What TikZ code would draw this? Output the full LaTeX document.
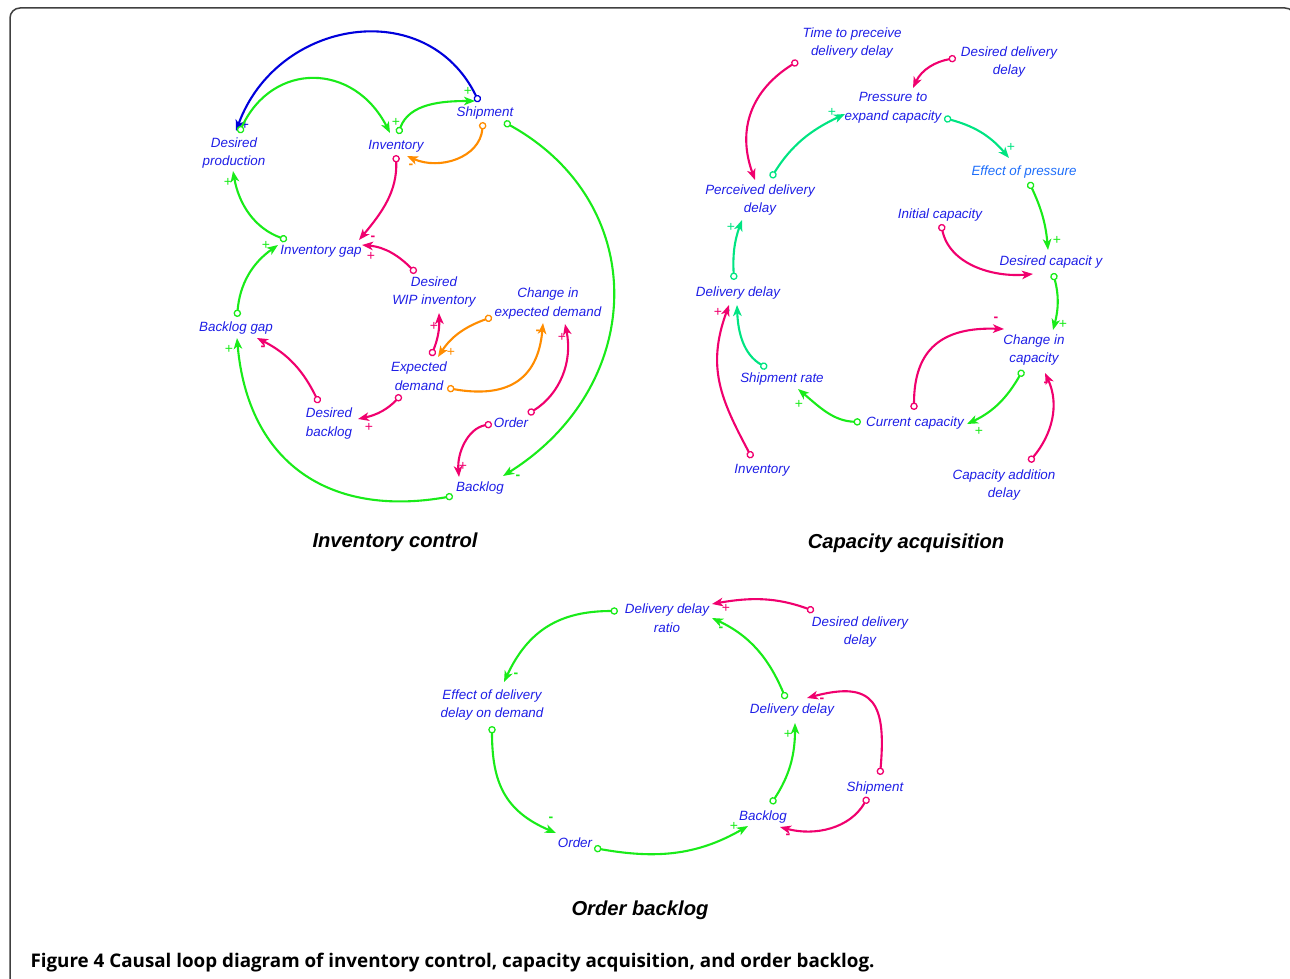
\documentclass[tikz,border=0pt]{standalone}
\usepackage{fontspec}
\setmainfont{Liberation Sans}
\newfontfamily\capfont{Open Sans}
\usetikzlibrary{arrows.meta,calc}

\definecolor{vblue}{RGB}{30,30,230}
\definecolor{eblue}{RGB}{30,110,250}
\definecolor{pk}{RGB}{240,0,110}
\definecolor{gr}{RGB}{25,235,25}
\definecolor{sg}{RGB}{0,228,130}
\definecolor{og}{RGB}{255,140,0}
\definecolor{bl}{RGB}{0,0,220}

\begin{document}
\begin{tikzpicture}[x=1pt,y=1pt,
   var/.style={text=vblue, font=\fontsize{13.4}{18.5}\selectfont\itshape, align=center, inner sep=1pt},
   ttl/.style={font=\fontsize{20.2}{22}\selectfont\bfseries\itshape},
   link/.style={line width=2.1pt, {Circle[open,length=7.5pt,line width=1.3pt]}-{Stealth[length=11pt,width=8.5pt,inset=3pt]}},
   sgn/.style={font=\fontsize{14}{16}\selectfont, inner sep=0pt},
   lgrn/.style={link, color=gr},
   lpnk/.style={link, color=pk},
   lorg/.style={link, color=og},
   lspr/.style={link, color=sg},
   lblu/.style={link, color=bl}]

\useasboundingbox (0,0) rectangle (1290,-979);
\draw[black!75, line width=1.5pt, rounded corners=10pt] (10,-8) rectangle (1295,-990);

% Inventory control
\node[var] (dprod) at (234,-153) {Desired\\production};
\node[var] (inv) at (396,-146) {Inventory};
\node[var] (ship) at (485,-113) {Shipment};
\node[var] (gap) at (321,-251) {Inventory gap};
\node[var] (wip) at (434,-292) {Desired\\WIP inventory};
\node[var] (ced) at (548,-303.5) {Change in\\expected demand};
\node[var] (bgap) at (236,-328) {Backlog gap};
\node[var] (ed) at (419,-376) {Expected\\demand};
\node[var] (dback) at (329,-423.5) {Desired\\backlog};
\node[var] (order) at (511,-423) {Order};
\node[var] (backlog) at (480,-488) {Backlog};
\node[ttl] (t1) at (395,-542) {Inventory control};

\draw[lblu] ($(ship)+(-6,11)$) to[out=116,in=70,looseness=1.25] node[sgn,at end,shift={(9,6)}]{+} ($(dprod)+(2,22)$);
\draw[lgrn] ($(dprod)+(5,20)$) to[out=65,in=117,looseness=1.35] node[sgn,at end,shift={(6,11)}]{+} ($(inv)+(-6,13)$);
\draw[lgrn] ($(inv)+(2,12)$) to[out=70,in=180] node[sgn,at end,shift={(-7,10)}]{+} ($(ship)+(-10,12)$);
\draw[lorg] ($(ship)+(-2,-9)$) to[out=-95,in=-24,looseness=1.1] node[sgn,at end,shift={(4,-10)}]{\bfseries -} ($(inv)+(11,-10)$);
\draw[lpnk] ($(inv)+(0,-9)$) to[out=-88,in=50] node[sgn,at end,shift={(14,2)}]{\bfseries -} ($(gap)+(38,11)$);
\draw[lpnk] ($(wip)+(-18,19)$) to[out=135,in=-5] node[sgn,at end,shift={(9,-11)}]{+} ($(gap)+(41,6)$);
\draw[lgrn] ($(gap)+(-34,11)$) to[out=160,in=-80] node[sgn,at end,shift={(-5,-11)}]{+} ($(dprod)+(-1,-18)$);
\draw[lgrn] ($(bgap)+(1,11)$) to[out=85,in=215] node[sgn,at end,shift={(-12,0)}]{+} ($(gap)+(-43,6)$);
\draw[lgrn] ($(backlog)+(-27,-8)$) to[out=190,in=-85,looseness=1.2] node[sgn,at end,shift={(-8,-11)}]{+} ($(bgap)+(1,-10)$);
\draw[lpnk] ($(dback)+(-10,20.5)$) to[out=116,in=-27] node[sgn,at end,shift={(6,-10)}]{\bfseries -} ($(bgap)+(21,-10)$);
\draw[lpnk] ($(ed)+(-18,-19)$) to[out=227,in=12] node[sgn,at end,shift={(11,-8)}]{+} ($(dback)+(29,4.5)$);
\draw[lpnk] ($(ed)+(12,20)$) to[out=68,in=-88] node[sgn,at end,shift={(-5,-13)}]{+} ($(wip)+(5,-21)$);
\draw[lorg] ($(ced)+(-56,-13.5)$) to[out=200,in=57] node[sgn,at end,shift={(13,5)}]{+} ($(ed)+(19,19)$);
\draw[lorg] ($(ed)+(28,-12)$) to[out=-10,in=-95,looseness=1.3] node[sgn,at end,shift={(-5,-9)}]{\bfseries -} ($(ced)+(-5,-19.5)$);
\draw[lpnk] ($(order)+(17,9)$) to[out=32,in=-78] node[sgn,at end,shift={(-3,-13)}]{+} ($(ced)+(17,-20.5)$);
\draw[lpnk] ($(order)+(-19,-1)$) to[out=190,in=95] node[sgn,at end,shift={(4,11)}]{+} ($(backlog)+(-21,11)$);
\draw[lgrn] ($(ship)+(19,-9)$) to[out=-29,in=32,looseness=1.22] node[sgn,at end,shift={(15,-1)}]{\bfseries -} ($(backlog)+(23,12)$);

% Capacity acquisition
\node[var] (tpd) at (852,-43) {Time to preceive\\delivery delay};
\node[var] (ddd) at (1009,-62) {Desired delivery\\delay};
\node[var] (pec) at (893,-108) {Pressure to\\expand capacity};
\node[var, text=eblue] (eop) at (1024,-172) {Effect of pressure};
\node[var] (pdd) at (760,-200) {Perceived delivery\\delay};
\node[var] (icap) at (940,-215) {Initial capacity};
\node[var] (dcap) at (1051,-262) {Desired capacit y};
\node[var] (dd) at (738,-293) {Delivery delay};
\node[var] (cic) at (1034,-350) {Change in\\capacity};
\node[var] (shr) at (782,-379) {Shipment rate};
\node[var] (curcap) at (915,-423) {Current capacity};
\node[var] (inv2) at (762,-470) {Inventory};
\node[var] (cad) at (1004,-485) {Capacity addition\\delay};
\node[ttl] (t2) at (906,-543) {Capacity acquisition};

\draw[lpnk] ($(tpd)+(-54,-18)$) to[out=212,in=110,looseness=1.1] ($(pdd)+(-5,20)$);
\draw[lpnk] ($(ddd)+(-53,4)$) to[out=190,in=65] ($(pec)+(20,20)$);
\draw[lspr] ($(pdd)+(11,22)$) to[out=58,in=205] node[sgn,at end,shift={(-13,2)}]{+} ($(pec)+(-48,-6)$);
\draw[lspr] ($(pec)+(51,-10)$) to[out=-15,in=130] node[sgn,at end,shift={(2,11)}]{+} ($(eop)+(-15,14)$);
\draw[lgrn] ($(eop)+(5,-10)$) to[out=-65,in=95] node[sgn,at end,shift={(9,10)}]{+} ($(dcap)+(-3,12)$);
\draw[lpnk] ($(icap)+(1,-9)$) to[out=-78,in=185] ($(dcap)+(-18,-12)$);
\draw[lgrn] ($(dcap)+(2,-11)$) to[out=-75,in=75] node[sgn,at end,shift={(10,6)}]{+} ($(cic)+(19,20)$);
\draw[lpnk] ($(curcap)+(-1,13)$) to[out=90,in=178,looseness=1.3] node[sgn,at end,shift={(-8,10)}]{\bfseries -} ($(cic)+(-30,21)$);
\draw[lgrn] ($(cic)+(-11,-20)$) to[out=240,in=25] node[sgn,at end,shift={(12,-7)}]{+} ($(curcap)+(52,-1)$);
\draw[lpnk] ($(cad)+(25,23)$) to[out=50,in=-65] node[sgn,at end,shift={(1,-11)}]{\bfseries -} ($(cic)+(11,-23)$);
\draw[lgrn] ($(curcap)+(-54,1)$) to[out=178,in=-40] node[sgn,at end,shift={(1,-15)}]{+} ($(shr)+(16,-10)$);
\draw[lspr] ($(shr)+(-15,11)$) to[out=150,in=-88] node[sgn,at end,shift={(-9,-7)}]{\bfseries -} ($(dd)+(-1,-12)$);
\draw[lpnk] ($(inv2)+(-10,12)$) to[out=118,in=-110,looseness=1.1] node[sgn,at end,shift={(-11,-7)}]{+} ($(dd)+(-9,-12)$);
\draw[lspr] ($(dd)+(-4,13)$) to[out=93,in=-110] node[sgn,at end,shift={(-11,-7)}]{+} ($(pdd)+(-18,-20)$);

% Order backlog
\node[var] (ddr) at (667,-618) {Delivery delay\\ratio};
\node[var] (ddd3) at (860,-632) {Desired delivery\\delay};
\node[var] (eff) at (492,-705) {Effect of delivery\\delay on demand};
\node[var] (dd3) at (792,-710) {Delivery delay};
\node[var] (ship3) at (875,-788) {Shipment};
\node[var] (back3) at (763,-817) {Backlog};
\node[var] (ord3) at (575,-843) {Order};
\node[ttl] (t3) at (640,-910) {Order backlog};

\draw[lgrn] ($(ddr)+(-49,7)$) to[out=180,in=65,looseness=1.1] node[sgn,at end,shift={(12,7)}]{\bfseries -} ($(eff)+(12,23)$);
\draw[lpnk] ($(ddd3)+(-46,21)$) to[out=160,in=10] node[sgn,at end,shift={(14,-4)}]{+} ($(ddr)+(45,14)$);
\draw[lgrn] ($(dd3)+(-6,11)$) to[out=113,in=-25] node[sgn,at end,shift={(9,-11)}]{\bfseries -} ($(ddr)+(45,0)$);
\draw[lgrn] ($(eff)+(0,-21)$) to[out=-90,in=157,looseness=1.15] node[sgn,at end,shift={(-5,14)}]{\bfseries -} ($(ord3)+(-19,10)$);
\draw[lgrn] ($(ord3)+(19,-5)$) to[out=-10,in=210] node[sgn,at end,shift={(-14,0)}]{+} ($(back3)+(-15,-9)$);
\draw[lgrn] ($(back3)+(8,13)$) to[out=57,in=-90] node[sgn,at end,shift={(-7,-11)}]{+} ($(dd3)+(3,-13)$);
\draw[lpnk] ($(ship3)+(5,13)$) to[out=85,in=15,looseness=1.7] node[sgn,at end,shift={(15,-2)}]{\bfseries -} ($(dd3)+(15,12)$);
\draw[lpnk] ($(ship3)+(-7,-9)$) to[out=240,in=-15] node[sgn,at end,shift={(8,-9)}]{\bfseries -} ($(back3)+(17,-10)$);

\node[anchor=base west, font=\capfont\fontsize{18.8}{22}\selectfont\bfseries] (cap) at (27,-967) {Figure 4 Causal loop diagram of inventory control, capacity acquisition, and order backlog.};

\end{tikzpicture}
\end{document}
